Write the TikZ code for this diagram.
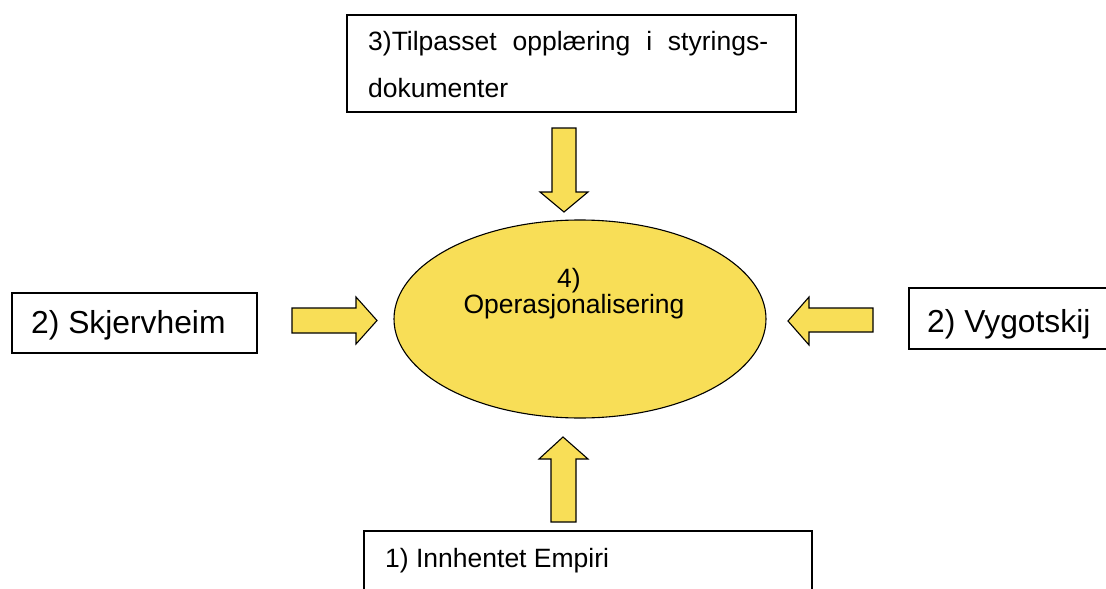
\documentclass[tikz,border=0pt]{standalone}
\usepackage{fontspec}
\setmainfont{Liberation Sans}
\definecolor{ylw}{HTML}{F8DE57}
\tikzset{
  boxstyle/.style={draw=black, line width=1.6pt, fill=white, inner sep=0pt},
  blockarrow/.style={draw=black, line width=1.1pt, fill=ylw, line join=miter},
  bigtxt/.style={font=\fontsize{31.8}{36}\selectfont, inner sep=0pt},
  midtxt/.style={font=\fontsize{26.5}{30}\selectfont, inner sep=0pt}
}
\begin{document}
\begin{tikzpicture}[x=1pt,y=-1pt]
\useasboundingbox (0,0) rectangle (1106,589);
% boxes
\node[boxstyle, minimum width=449pt, minimum height=97pt] (topbox) at (571.5,63.5) {};
\node[boxstyle, minimum width=245pt, minimum height=60pt] (leftbox) at (134.5,323) {};
\node[boxstyle, minimum width=205pt, minimum height=61pt] (rightbox) at (1011.5,318.5) {};
\node[boxstyle, minimum width=448pt, minimum height=70pt] (botbox) at (588,566) {};
% texts
\node[midtxt, anchor=base west] (toptxt1) at (368,50) {\hbox to 400pt{3)Tilpasset\hfill opplæring\hfill i\hfill styrings-}};
\node[midtxt, anchor=base west] (toptxt2) at (368,97) {dokumenter};
\node[bigtxt, anchor=base west] (lefttxt) at (31,333) {2) Skjervheim};
\node[bigtxt, anchor=base west] (righttxt) at (927,332) {2) Vygotskij};
\node[midtxt, anchor=base west] (bottxt) at (385,567) {1) Innhentet Empiri};
% ellipse
\draw[line width=1.1pt, fill=ylw] (580,319) ellipse [x radius=186, y radius=99];
\coordinate (ell) at (580,319);
\node[midtxt, anchor=base] (e1) at (569,287) {4)};
\node[midtxt, anchor=base] (e2) at (574,313) {Operasjonalisering};
% block arrows
% top (down)
\draw[blockarrow] (552,128) -- (576,128) -- (576,192) -- (588,192) -- (564,212) -- (540,192) -- (552,192) -- cycle;
% bottom (up)
\draw[blockarrow] (551,522) -- (576,522) -- (576,459) -- (588,459) -- (563,437) -- (539,459) -- (551,459) -- cycle;
% left (right-pointing)
\draw[blockarrow] (292,308) -- (356,308) -- (356,297) -- (377,320.5) -- (356,344) -- (356,333) -- (292,333) -- cycle;
% right (left-pointing)
\draw[blockarrow] (873,308) -- (809,308) -- (809,297) -- (788,321) -- (809,345) -- (809,332) -- (873,332) -- cycle;
\end{tikzpicture}
\end{document}
